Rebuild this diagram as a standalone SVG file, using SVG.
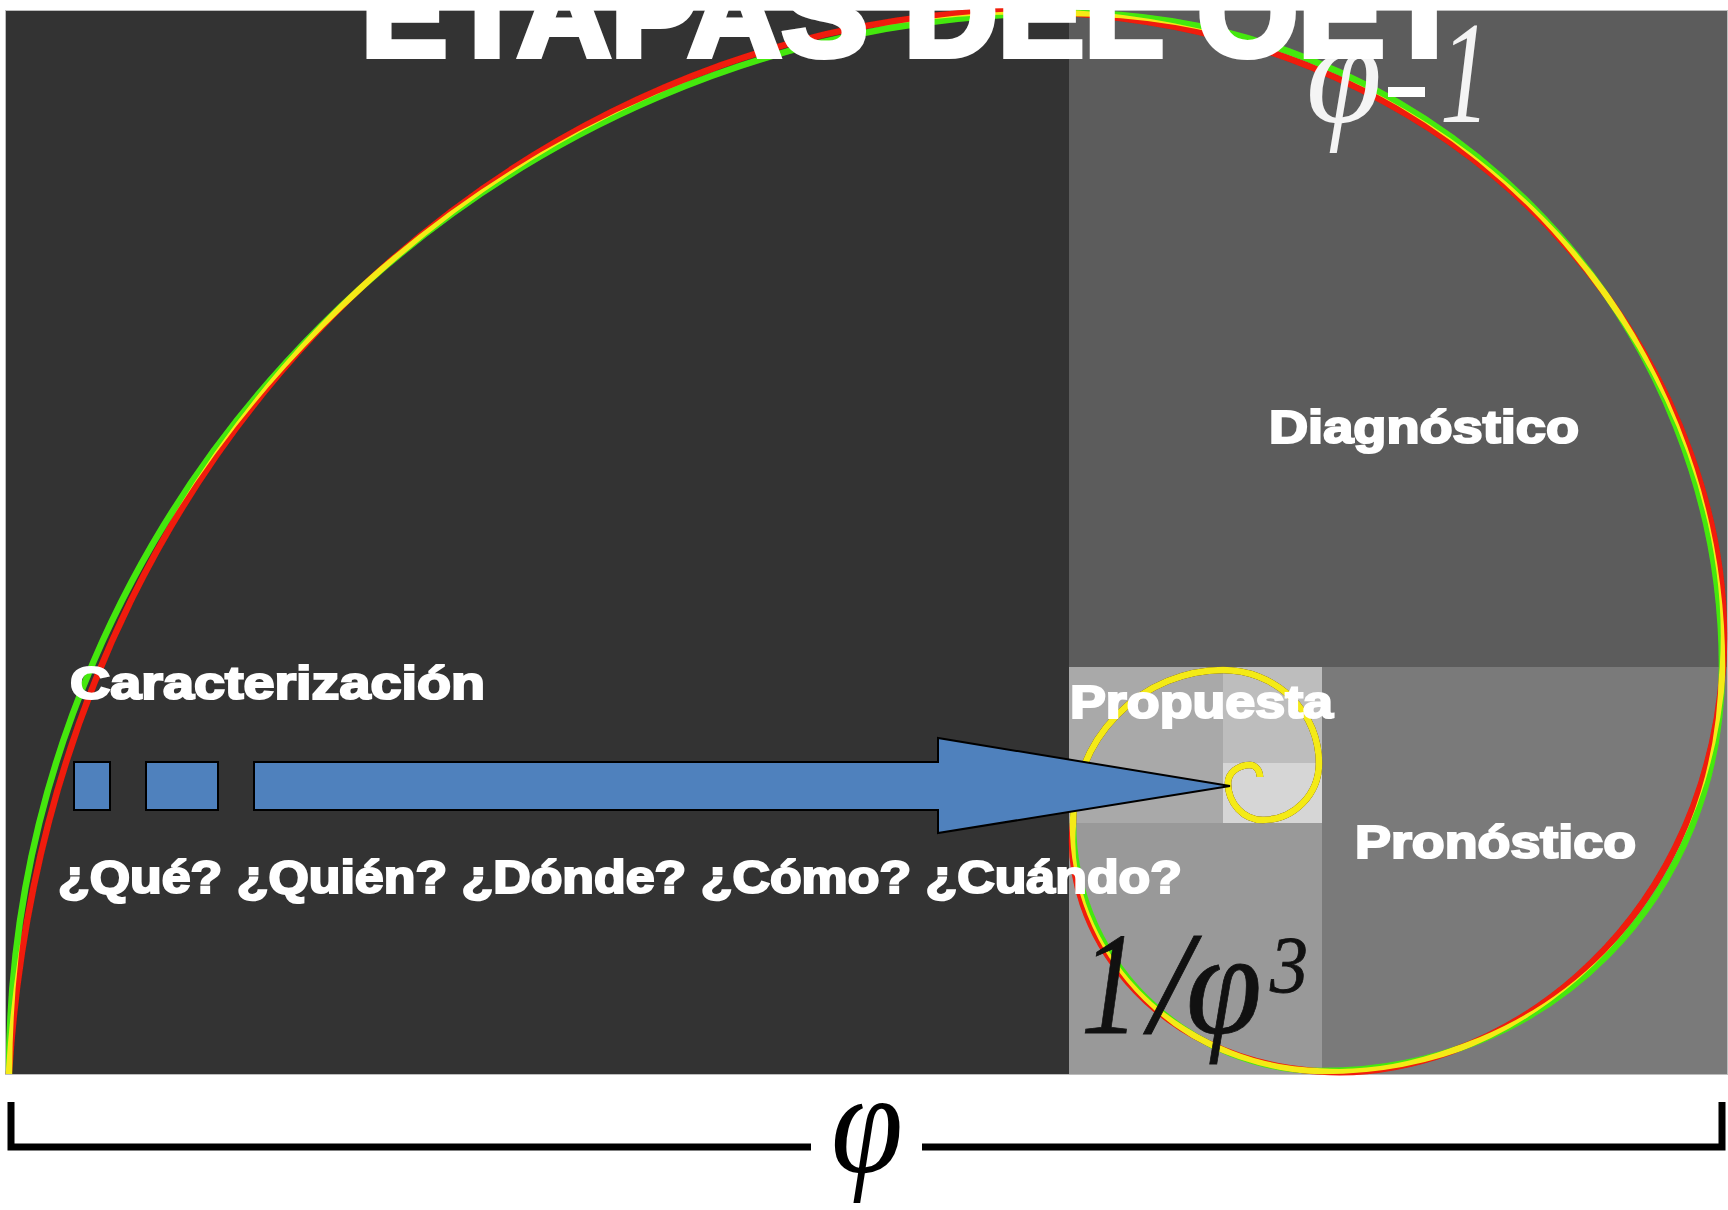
<svg xmlns="http://www.w3.org/2000/svg" width="1728" height="1210" viewBox="0 0 1728 1210">
<style>
.lbl{font-family:"Liberation Sans",Arial,sans-serif;font-weight:700;font-size:47px;fill:#fff;stroke:#fff;stroke-width:2.2px}
.ser{font-family:"Liberation Serif","Times New Roman",serif;font-style:italic}
.arw{fill:#4f81bd;stroke:#000;stroke-width:2}
.sp{fill:none;stroke-width:6.5px;stroke-linecap:butt}
</style>
<defs><filter id="soft" x="-2%" y="-2%" width="104%" height="104%"><feGaussianBlur stdDeviation="0.7"/></filter></defs>
<rect width="1728" height="1210" fill="#fff"/>
<g id="squares">
<rect x="5" y="10" width="1723" height="1065" fill="#bdbdbd"/>
<rect x="6" y="11" width="1063" height="1063" fill="#333"/>
<rect x="1069" y="11" width="658" height="656" fill="#5c5c5c"/>
<rect x="1322" y="667" width="405" height="407" fill="#7a7a7a"/>
<rect x="1069" y="823" width="253" height="251" fill="#999"/>
<rect x="1069" y="667" width="154" height="156" fill="#a9a9a9"/>
<rect x="1223" y="667" width="99" height="96" fill="#bdbdbd"/>
<rect x="1223" y="763" width="99" height="60" fill="#d6d6d6"/>
</g>
<g id="spiral" style="isolation:isolate" filter="url(#soft)">
<path class="sp" stroke="#44e810" d="M9 1074 L9 1073 C9 493 489 13 1068 13 A654 654 0 0 1 1722 667 C1722 897 1550 1071 1322 1071 A250 248 0 0 1 1073 823 A151 153 0 0 1 1223 670 A96 93 0 0 1 1319 763 A56 57 0 0 1 1263 820 A35 37 0 0 1 1228 783 A22 18 0 0 1 1250 765 A10 12 0 0 1 1260 777"/>
<path class="sp" stroke="#f01a08" style="mix-blend-mode:screen" d="M9 1074 L9 1073 C54.9 354 623.2 -16.3 1068 13 C1510.6 41.7 1741 392.9 1723 667.1 C1703.7 941.3 1486.7 1082.8 1320 1071.5 C1147.7 1060.6 1062 926.6 1073 823 A151 153 0 0 1 1223 670 A96 93 0 0 1 1319 763 A56 57 0 0 1 1263 820 A35 37 0 0 1 1228 783 A22 18 0 0 1 1250 765 A10 12 0 0 1 1260 777"/>
</g>
<g id="phi-minus-1" class="ser" fill="#f4f4f4">
<text x="1306" y="122" font-size="146" textLength="76" lengthAdjust="spacingAndGlyphs">φ</text>
<text x="1440" y="122" font-size="146" textLength="50" lengthAdjust="spacingAndGlyphs">1</text>
<rect x="1388" y="87" width="37" height="10" fill="#fff"/>
</g>
<g id="one-over-phi3" class="ser" fill="#111" stroke="#111" stroke-width="0.8">
<text x="1081" y="1033" font-size="146" textLength="58" lengthAdjust="spacingAndGlyphs">1</text>
<text x="1150" y="1033" font-size="146">/</text>
<text x="1186" y="1033" font-size="146" textLength="76" lengthAdjust="spacingAndGlyphs">φ</text>
<text x="1270" y="992" font-size="81" textLength="38" lengthAdjust="spacingAndGlyphs">3</text>
</g>
<g id="phi-bracket">
<path d="M11 1102 V1147 H811 M922 1147 H1722 V1102" fill="none" stroke="#000" stroke-width="7"/>
<text class="ser" x="831" y="1172" font-size="146" fill="#000" textLength="72" lengthAdjust="spacingAndGlyphs">φ</text>
</g>
<g id="arrow">
<rect class="arw" x="74" y="762" width="36" height="48"/>
<rect class="arw" x="146" y="762" width="72" height="48"/>
<path class="arw" d="M254 762 H938 V738 L1230 786 L938 833 V810 H254 Z"/>
</g>
<g id="labels">
<text id="title" x="361" y="56" textLength="1103" lengthAdjust="spacingAndGlyphs" style="font-family:'Liberation Sans',Arial,sans-serif;font-weight:700;font-size:124px;fill:#fff;stroke:#fff;stroke-width:6px">ETAPAS DEL OET</text>
<text class="lbl" x="70" y="699" textLength="415" lengthAdjust="spacingAndGlyphs">Caracterización</text>
<text class="lbl" x="58" y="893" textLength="1124" lengthAdjust="spacingAndGlyphs">¿Qué? ¿Quién? ¿Dónde? ¿Cómo? ¿Cuándo?</text>
<text class="lbl" x="1269" y="443" textLength="310" lengthAdjust="spacingAndGlyphs">Diagnóstico</text>
<text class="lbl" x="1355" y="858" textLength="281" lengthAdjust="spacingAndGlyphs">Pronóstico</text>
<text class="lbl" x="1070" y="718" textLength="263" lengthAdjust="spacingAndGlyphs">Propuesta</text>
</g>
</svg>
